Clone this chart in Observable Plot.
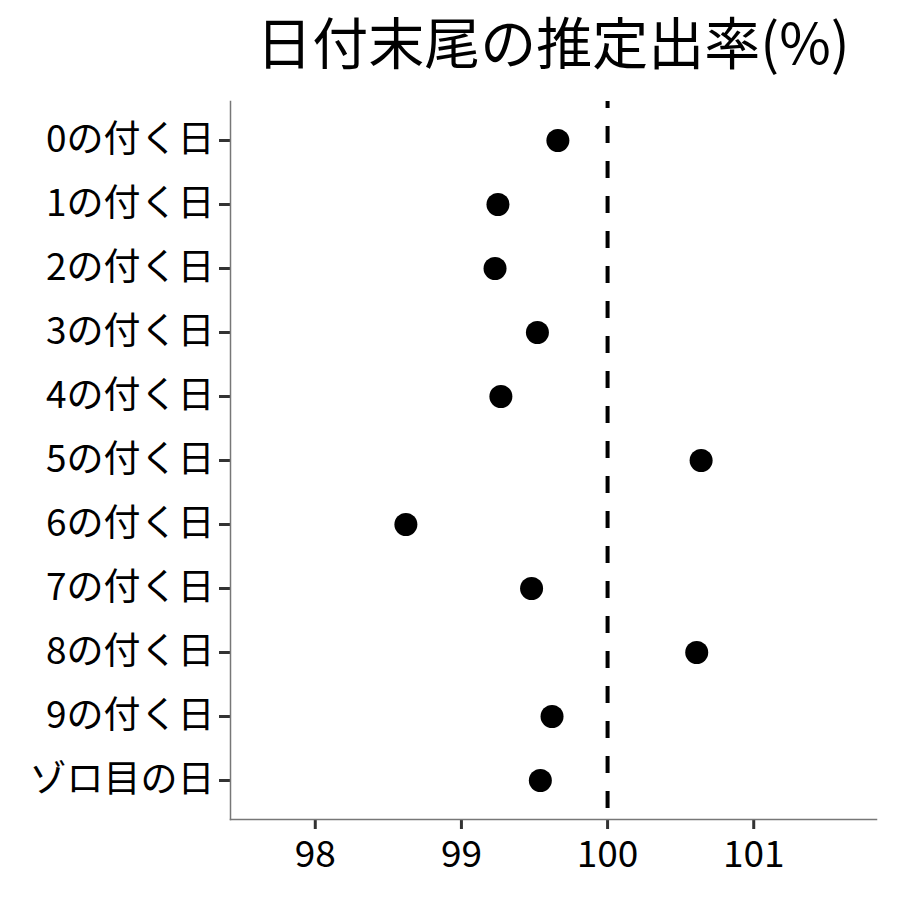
<!DOCTYPE html>
<html>
<head>
<meta charset="utf-8">
<script src="https://cdn.jsdelivr.net/npm/d3@7"></script>
<script src="https://cdn.jsdelivr.net/npm/@observablehq/plot@0.6"></script>
<style>
  html, body { margin: 0; padding: 0; background: #fff; }
  #title {
    box-sizing: border-box; width: 900px; height: 90px;
    padding: 12px 24px 0 230px; margin: 0;
    font-family: "Noto Sans CJK JP", sans-serif; font-size: 56px; line-height: 56px;
    font-weight: normal; text-align: center; color: #000; white-space: nowrap;
  }
  #chart svg { display: block; font-family: "Noto Sans CJK JP", "Noto Sans", sans-serif; }
</style>
</head>
<body>
<div id="title"></div>
<div id="chart"></div>
<script>
const title = "日付末尾の推定出率(%)";
const categories = ["0の付く日","1の付く日","2の付く日","3の付く日","4の付く日","5の付く日","6の付く日","7の付く日","8の付く日","9の付く日","ゾロ目の日"];
const rates = [99.66, 99.25, 99.23, 99.52, 99.27, 100.64, 98.62, 99.48, 100.61, 99.62, 99.54];
const xTicks = [98, 99, 100, 101];
const referenceValue = 100;
const xDomain = [97.42, 101.84];

const data = categories.map((c, i) => ({category: c, rate: rates[i]}));

document.getElementById("title").textContent = title;

const chart = Plot.plot({
  width: 900,
  height: 810,
  marginTop: 11,
  marginLeft: 230,
  marginRight: 24,
  marginBottom: 81,
  style: {fontFamily: '"Noto Sans CJK JP", sans-serif', fontSize: "37px", color: "#000", background: "#fff"},
  x: {domain: xDomain, ticks: xTicks, label: null},
  y: {domain: categories, type: "point", padding: 0.6, label: null},
  marks: [
    Plot.axisX({ticks: xTicks, tickSize: 10, tickPadding: 11, stroke: "#333", strokeWidth: 3, strokeOpacity: 1, fill: "#000", fontSize: 37, label: null, tickFormat: d => String(d)}),
    Plot.axisY({tickSize: 11, tickPadding: 5, stroke: "#333", strokeWidth: 3, strokeOpacity: 1, fill: "#000", fontSize: 37, label: null}),
    Plot.frame({anchor: "left", stroke: "#777", strokeWidth: 1.5}),
    Plot.frame({anchor: "bottom", stroke: "#777", strokeWidth: 1.5}),
    Plot.ruleX([referenceValue], {stroke: "#000", strokeWidth: 4, strokeDasharray: "17,18", strokeDashoffset: 10}),
    Plot.dot(data, {x: "rate", y: "category", r: 11.5, fill: "#000", stroke: null})
  ]
});
document.getElementById("chart").appendChild(chart);
</script>
</body>
</html>
